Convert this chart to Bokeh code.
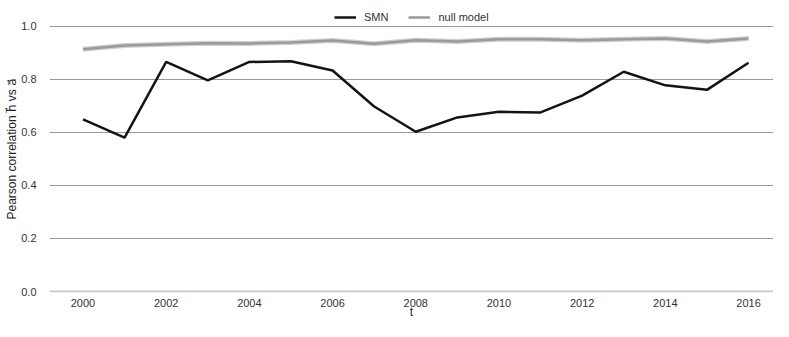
from bokeh.plotting import figure
from bokeh.models import Range1d, Legend, LegendItem, FixedTicker, NumeralTickFormatter, Span
from bokeh.embed import file_html
from bokeh.resources import INLINE

years = list(range(2000, 2017))
smn = [0.649, 0.580, 0.865, 0.796, 0.865, 0.868, 0.833, 0.697, 0.602,
       0.656, 0.677, 0.675, 0.738, 0.828, 0.777, 0.760, 0.862]
null_model = [0.913, 0.927, 0.932, 0.936, 0.935, 0.938, 0.946, 0.934, 0.947,
              0.942, 0.951, 0.951, 0.947, 0.951, 0.953, 0.942, 0.953]
y_ticks = [0.0, 0.2, 0.4, 0.6, 0.8, 1.0]
x_ticks = [2000, 2002, 2004, 2006, 2008, 2010, 2012, 2014, 2016]

FONT = "Liberation Sans, DejaVu Sans"

p = figure(width=773, height=321, output_backend="svg", toolbar_location=None,
           x_range=Range1d(1999.195, 2016.6), y_range=Range1d(-0.0037, 1.0778),
           min_border_left=49, min_border_right=0, min_border_top=5, min_border_bottom=0)
p.outline_line_color = None
p.background_fill_color = "white"
p.border_fill_color = "white"

p.xgrid.grid_line_color = None
p.ygrid.grid_line_color = "#9a9a9a"
p.ygrid.grid_line_width = 1.2
p.ygrid.ticker = FixedTicker(ticks=y_ticks[1:])
p.add_layout(Span(location=y_ticks[0], dimension="width", line_color="#c8c8c8", line_width=2))

# null model: light halo + line
p.line(years, null_model, line_color="#d0d0d0", line_width=5)
r_null = p.line(years, null_model, line_color="#9a9a9a", line_width=2.5)
r_smn = p.line(years, smn, line_color="#141414", line_width=2.5)

for ax in (p.xaxis[0], p.yaxis[0]):
    ax.axis_line_color = None
    ax.major_tick_line_color = None
    ax.minor_tick_line_color = None
    ax.major_label_text_font = FONT
    ax.major_label_text_font_size = "11px"
    ax.major_label_text_color = "#333333"
    ax.axis_label_text_font = FONT
    ax.axis_label_text_font_style = "normal"
    ax.axis_label_text_font_size = "12px"
    ax.axis_label_text_color = "#222222"

p.xaxis.ticker = FixedTicker(ticks=x_ticks)
p.yaxis.ticker = FixedTicker(ticks=y_ticks)
p.yaxis.formatter = NumeralTickFormatter(format="0.0")
p.xaxis.axis_label = "t"
p.yaxis.axis_label = "Pearson correlation h\u20d7 vs a\u20d7"
p.xaxis.major_label_standoff = 0
p.xaxis.axis_label_standoff = -5
p.yaxis.major_label_standoff = 7
p.yaxis.axis_label_standoff = -1

legend = Legend(items=[LegendItem(label="SMN", renderers=[r_smn]),
                       LegendItem(label="null model", renderers=[r_null])],
                orientation="horizontal", location=(285, 268),
                border_line_color=None, background_fill_alpha=0,
                label_text_font=FONT, label_text_font_size="11px",
                label_text_color="#333333", glyph_width=22, glyph_height=14,
                label_height=14, padding=2, margin=0, spacing=20,
                label_standoff=8)
p.add_layout(legend, "center")

open("out.html", "w").write(file_html(p, INLINE))
